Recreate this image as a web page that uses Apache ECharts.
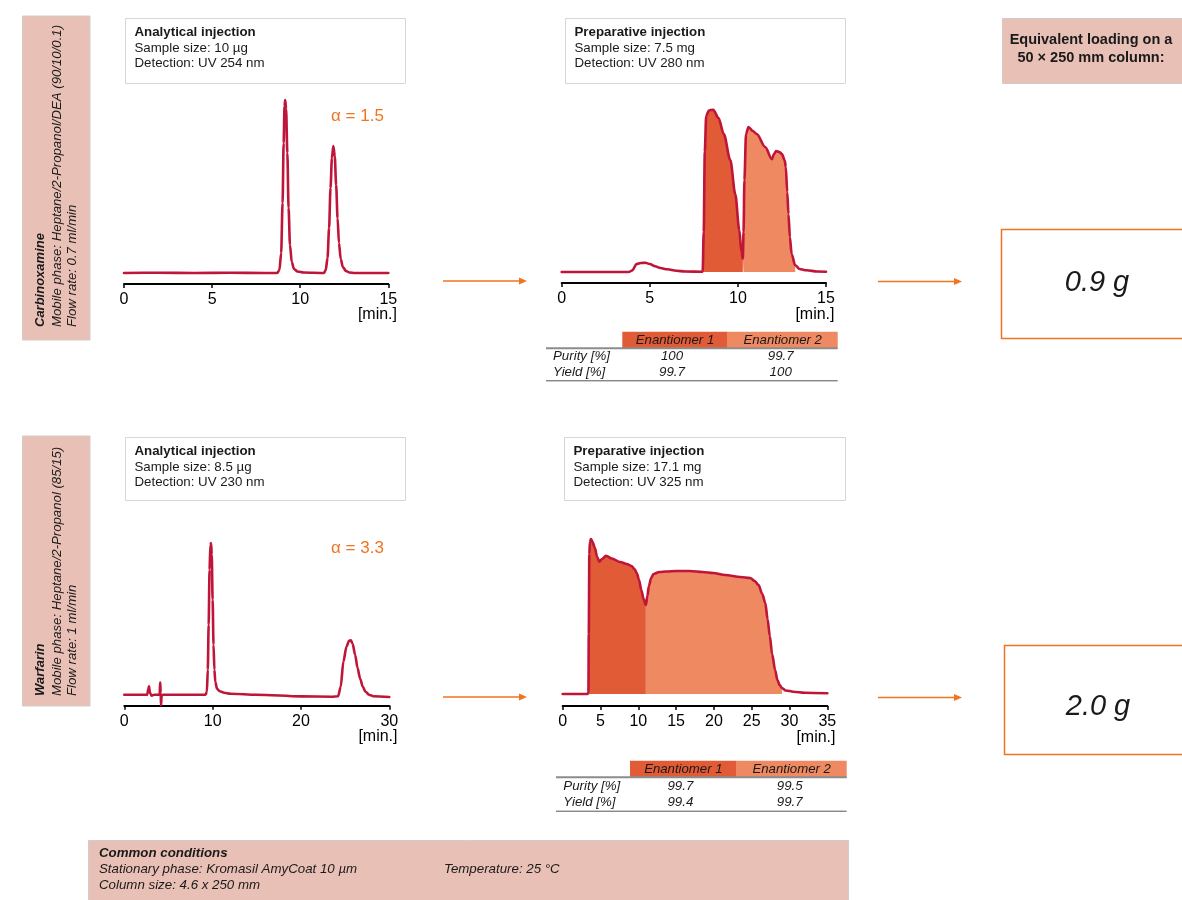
<!DOCTYPE html>
<html>
<head>
<meta charset="utf-8">
<script src="https://cdn.jsdelivr.net/npm/echarts@6/dist/echarts.min.js"></script>
<style>
html,body{margin:0;padding:0;background:#fff;}
#chart{width:1182px;height:900px;}
</style>
</head>
<body>
<div id="chart"></div>
<script>
// ---------- DATA ----------
// Carbinoxamine analytical chromatogram [time min, signal]
const carbAnalytical = [[0,0],[2,0.3],[4,0],[6,0.3],[8,0],[8.7,0],[8.82,3],[8.92,20],[9.0,70],[9.06,130],[9.11,167],[9.15,173],[9.2,164],[9.27,120],[9.34,65],[9.42,28],[9.52,11],[9.65,4],[9.85,1.5],[10.2,0.5],[11.35,0],[11.45,3],[11.55,15],[11.64,45],[11.72,85],[11.8,115],[11.88,127],[11.96,117],[12.04,88],[12.12,55],[12.2,30],[12.3,14],[12.42,6],[12.6,2],[12.8,0.5],[13.1,0],[15,0]];
// Carbinoxamine preparative chromatogram
const carbPreparative = [[0,0],[3.8,0],[4.0,1.5],[4.25,8],[4.5,9],[4.75,9.3],[5.0,8],[5.3,5.7],[5.6,4],[6.0,2.7],[6.5,1.3],[7.0,0.5],[8.0,0.3],[8.06,40],[8.12,120],[8.2,156],[8.35,161.5],[8.6,162.3],[8.9,154],[9.2,138],[9.57,112],[9.85,78],[10.08,42],[10.2,20],[10.28,13.3],[10.32,40],[10.37,92],[10.46,138],[10.6,145],[10.85,141],[11.07,138],[11.55,125],[11.93,112.7],[12.05,118],[12.17,121],[12.35,120],[12.5,118],[12.65,112],[12.72,105],[12.8,80],[12.87,58],[12.95,35],[13.05,18],[13.25,6.7],[13.5,3],[13.9,1.7],[14.5,0.5],[15,0.3]];
// Warfarin analytical chromatogram
const warfAnalytical = [[0,0],[2.6,0],[2.72,6],[2.8,8.3],[2.9,2],[3.1,-1],[3.4,0],[4.0,0],[4.06,12.3],[4.12,2],[4.16,-10.7],[4.22,-1],[4.4,0],[9.2,0],[9.35,3],[9.45,25],[9.55,70],[9.65,125],[9.75,150],[9.82,151.7],[9.9,140],[10.0,95],[10.1,50],[10.2,25],[10.3,13],[10.5,6],[10.8,3.5],[11.3,2],[12,1],[15,0],[20,-1.7],[23.5,-2],[24.2,-1.5],[24.5,8],[24.8,33],[25.15,48],[25.45,54],[25.64,54.3],[25.85,51],[26.13,40],[26.4,27],[26.7,16],[27.0,8],[27.3,3],[27.7,0],[28.2,-1.5],[30,-2.3]];
// Warfarin preparative chromatogram
const warfPreparative = [[0,0],[3.3,0],[3.4,2],[3.45,60],[3.52,140],[3.6,152],[3.74,155],[3.95,152],[4.27,145.7],[4.55,137],[4.85,132.3],[5.2,135],[5.73,138.3],[6.5,135.5],[7.6,132],[8.5,130],[9.1,128],[9.5,125],[9.8,121],[10.1,114],[10.4,104],[10.7,95],[11.0,89],[11.2,98],[11.4,108],[11.7,116],[12.0,120],[12.8,122],[13.7,122.5],[15,123],[16.8,123],[18.5,122],[19.9,121],[21.5,119],[23.5,117],[24.8,116],[25.4,113],[25.9,109],[26.4,100],[26.8,91],[27.1,75],[27.4,58],[27.7,40],[28.1,24],[28.4,14],[28.7,9],[29.0,6],[29.5,3.5],[30.5,2.3],[32,1.3],[35,0.7]];
// Fraction cut times [start E1, E1/E2 cut, end E2]
const carbCuts = [8.0, 10.28, 13.25];
const warfCuts = [3.4, 11.0, 29.0];
// Axes
const axisMax = [15, 15, 30, 35];
const axisInterval = [5, 5, 10, 5];
// Table
const enantiomers = ['Enantiomer 1', 'Enantiomer 2'];
const rowLabels = ['Purity [%]', 'Yield [%]'];
const carbPurity = ['100', '99.7'];
const carbYield = ['99.7', '100'];
const warfPurity = ['99.7', '99.5'];
const warfYield = ['99.4', '99.7'];
// Texts
const compounds = ['Carbinoxamine', 'Warfarin'];
const mobilePhases = ['Mobile phase: Heptane/2-Propanol/DEA (90/10/0.1)', 'Mobile phase: Heptane/2-Propanol (85/15)'];
const flowRates = ['Flow rate: 0.7 ml/min', 'Flow rate: 1 ml/min'];
const anaSample = ['Sample size: 10 µg', 'Sample size: 8.5 µg'];
const anaDetect = ['Detection: UV 254 nm', 'Detection: UV 230 nm'];
const prepSample = ['Sample size: 7.5 mg', 'Sample size: 17.1 mg'];
const prepDetect = ['Detection: UV 280 nm', 'Detection: UV 325 nm'];
const alphas = ['α = 1.5', 'α = 3.3'];
const loadings = ['0.9 g', '2.0 g'];

// ---------- STYLE ----------
const FONT = '"Liberation Sans", Arial, Helvetica, sans-serif';
const CURVE = '#BE1538';
const FILL1 = '#E05B36';
const FILL2 = '#EE8962';
const ORANGE = '#F07320';
const PINK = '#E9C0B5';

// grid geometry: [left, axisY, width, yMin, yMax]
const grids = [
  [124, 284, 264.3, -11, 180],
  [561.7, 283, 264.3, -11, 180],
  [124.3, 705.7, 265, -11, 180],
  [562.7, 706, 264.6, -12, 179]
];

const chart = echarts.init(document.getElementById('chart'), null, {renderer:'canvas'});

const gridOpt = grids.map(g => ({left:g[0], top:g[1]-(g[4]-g[3]), width:g[2], height:(g[4]-g[3]), containLabel:false}));
const xAxes = grids.map((g,i) => ({
  gridIndex:i, type:'value', min:0, max:axisMax[i], interval:axisInterval[i],
  axisLine:{show:true, onZero:false, lineStyle:{color:'#000', width:2}},
  axisTick:{show:true, length:4, inside:false, lineStyle:{color:'#000', width:1.5}},
  axisLabel:{color:'#000', fontSize:16, fontFamily:FONT, margin:8},
  splitLine:{show:false}
}));
const yAxes = grids.map((g,i) => ({gridIndex:i, type:'value', min:g[3], max:g[4], show:false, splitLine:{show:false}}));

function seg(data, a, b){ return data.filter(p => p[0] >= a && p[0] <= b); }
function curve(i, data){
  return {type:'line', xAxisIndex:i, yAxisIndex:i, data:data, symbol:'none', showSymbol:false,
    smooth:0.3, smoothMonotone:'x', lineStyle:{color:CURVE, width:2.6, cap:'round', join:'round'}, z:5, silent:true, animation:false};
}
function fill(i, data, color){
  return {type:'line', xAxisIndex:i, yAxisIndex:i, data:data, symbol:'none', showSymbol:false,
    smooth:0.3, smoothMonotone:'x', lineStyle:{width:0, color:color}, areaStyle:{color:color, opacity:1}, z:2, silent:true, animation:false};
}
const series = [
  fill(1, seg(carbPreparative, carbCuts[0], carbCuts[1]), FILL1),
  fill(1, seg(carbPreparative, carbCuts[1], carbCuts[2]), FILL2),
  fill(3, seg(warfPreparative, warfCuts[0], warfCuts[1]), FILL1),
  fill(3, seg(warfPreparative, warfCuts[1], warfCuts[2]), FILL2),
  curve(0, carbAnalytical),
  curve(1, carbPreparative),
  curve(2, warfAnalytical),
  curve(3, warfPreparative)
];

// ---------- GRAPHICS ----------
const G = [];
function rect(x,y,w,h,fillC,stroke,lw){ G.push({type:'rect', shape:{x:x,y:y,width:w,height:h}, style:{fill:fillC, stroke:stroke||null, lineWidth:lw||0}, silent:true, z:1}); }
function text(x,y,t,o){
  o = o||{};
  G.push({type:'text', x:x, y:y, rotation:o.rot||0, silent:true, z:10, style:{text:t, fill:o.color||'#1a1a1a',
    fontSize:o.size||13, fontFamily:o.family||FONT, fontWeight:o.bold?'bold':'normal', fontStyle:o.italic?'italic':'normal',
    align:o.align||'left', verticalAlign:'middle'}});
}
function line(x1,y1,x2,y2,color,w){ G.push({type:'line', shape:{x1:x1,y1:y1,x2:x2,y2:y2}, style:{stroke:color, lineWidth:w}, silent:true, z:3}); }
function arrow(x1,x2,y){
  line(x1,y,x2-7,y,ORANGE,1.3);
  G.push({type:'polygon', shape:{points:[[x2-8,y-3.5],[x2,y],[x2-8,y+3.5]]}, style:{fill:ORANGE}, silent:true, z:3});
}
function infoBox(x,y,w,h,title,l1,l2){
  rect(x,y,w,h,'#fff','#D6D6D6',1);
  text(x+9, y+13.5, title, {bold:true, size:13.3});
  text(x+9, y+29.5, l1, {size:13.3});
  text(x+9, y+45, l2, {size:13.3});
}
function sideBox(y1,y2,i,textBottom){
  rect(22.5,y1,67.5,y2-y1,PINK,'#D2CBC9',1);
  text(40, textBottom, compounds[i], {rot:Math.PI/2, bold:true, italic:true, size:13});
  text(57, textBottom, mobilePhases[i], {rot:Math.PI/2, italic:true, size:13.2});
  text(72.5, textBottom, flowRates[i], {rot:Math.PI/2, italic:true, size:13.2});
}
function table(x0, xh, yh, colW, labelX, r1, r2, purity, yieldV){
  rect(xh, yh, colW[0], 16.6, FILL1);
  rect(xh+colW[0], yh, colW[1], 16.6, FILL2);
  text(xh+colW[0]/2, yh+8.5, enantiomers[0], {italic:true, size:13.2, align:'center'});
  text(xh+colW[0]+colW[1]/2, yh+8.5, enantiomers[1], {italic:true, size:13.2, align:'center'});
  const xEnd = xh+colW[0]+colW[1];
  line(x0, yh+16.6, xEnd, yh+16.6, '#8C8C8C', 2);
  text(labelX, r1, rowLabels[0], {italic:true, size:13.3});
  text(labelX, r2, rowLabels[1], {italic:true, size:13.3});
  const c1 = xh+colW[0]/2-3, c2 = xh+colW[0]+colW[1]/2-2;
  text(c1, r1, purity[0], {italic:true, size:13.3, align:'center'});
  text(c2, r1, purity[1], {italic:true, size:13.3, align:'center'});
  text(c1, r2, yieldV[0], {italic:true, size:13.3, align:'center'});
  text(c2, r2, yieldV[1], {italic:true, size:13.3, align:'center'});
  line(x0, r2+8.5, xEnd, r2+8.5, '#555', 1);
}

// side labels
sideBox(16, 340, 0, 327);
sideBox(436, 706, 1, 696);
// info boxes
infoBox(125.5, 18.5, 280, 65, 'Analytical injection', anaSample[0], anaDetect[0]);
infoBox(565.5, 18.5, 280, 65, 'Preparative injection', prepSample[0], prepDetect[0]);
infoBox(125.5, 437.5, 280, 63, 'Analytical injection', anaSample[1], anaDetect[1]);
infoBox(564.5, 437.5, 281, 63, 'Preparative injection', prepSample[1], prepDetect[1]);
// alpha
text(331, 116.5, alphas[0], {color:ORANGE, size:17});
text(331, 548.5, alphas[1], {color:ORANGE, size:17});
// axis units
text(397, 315, '[min.]', {size:16, align:'right', color:'#000'});
text(834.5, 315, '[min.]', {size:16, align:'right', color:'#000'});
text(397.5, 737, '[min.]', {size:16, align:'right', color:'#000'});
text(835.5, 738, '[min.]', {size:16, align:'right', color:'#000'});
// arrows
arrow(443, 527, 281);
arrow(878, 962, 281.5);
arrow(443, 527, 697);
arrow(878, 962, 697.5);
// equivalent loading
rect(1002.5, 18.5, 200, 65, PINK, '#D2CBC9', 1);
text(1091, 39.5, 'Equivalent loading on a', {bold:true, size:14.5, align:'center'});
text(1091, 57.5, '50 × 250 mm column:', {bold:true, size:14.5, align:'center'});
rect(1001.5, 229.5, 200, 109, '#fff', ORANGE, 1.5);
text(1097, 283, loadings[0], {italic:true, size:29, align:'center'});
rect(1004.5, 645.5, 200, 109, '#fff', ORANGE, 1.5);
text(1098, 707, loadings[1], {italic:true, size:29, align:'center'});
// tables
table(546, 622.3, 331.7, [105.4, 110], 553, 356.7, 372.3, carbPurity, carbYield);
table(556, 630, 760.7, [106.7, 110], 563.3, 786.7, 802.7, warfPurity, warfYield);
// common conditions
rect(88.5, 840.5, 760, 70, PINK, '#D2CBC9', 1);
text(99, 853.5, 'Common conditions', {bold:true, italic:true, size:13.3});
text(99, 869.5, 'Stationary phase: Kromasil AmyCoat 10 µm', {italic:true, size:13.3});
text(99, 885.5, 'Column size: 4.6 x 250 mm', {italic:true, size:13.3});
text(444, 869.5, 'Temperature: 25 °C', {italic:true, size:13.3});

chart.setOption({
  animation:false,
  backgroundColor:'#fff',
  grid:gridOpt,
  xAxis:xAxes,
  yAxis:yAxes,
  series:series,
  graphic:G
});
</script>
</body>
</html>
